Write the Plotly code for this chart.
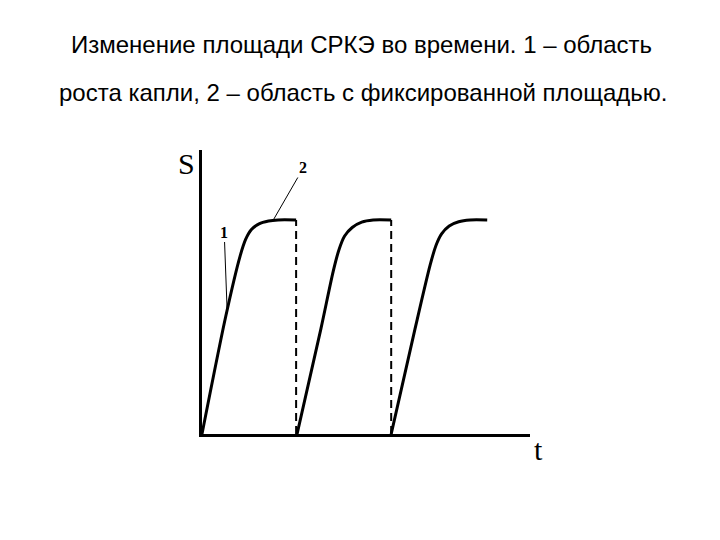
import plotly.graph_objects as go

# Cycle data (time in units of drop period, S normalised to plateau)
t1 = [0.0, 0.25, 0.40, 0.46, 0.52, 0.60, 0.70, 0.80, 0.99]
s1 = [0.0, 0.55, 0.83, 0.91, 0.955, 0.982, 0.995, 1.0, 1.0]
t2 = [1.00, 1.25, 1.38, 1.44, 1.50, 1.58, 1.68, 1.80, 1.99]
s2 = [0.0, 0.49, 0.76, 0.86, 0.925, 0.965, 0.99, 1.0, 1.0]
t3 = [1.99, 2.24, 2.40, 2.46, 2.52, 2.60, 2.70, 2.82, 3.00]
s3 = [0.0, 0.49, 0.79, 0.88, 0.935, 0.972, 0.992, 1.0, 1.0]
drop_t = [0.99, 1.99]
plateau_s = 1.0

title_lines = ["Изменение площади СРКЭ во времени. 1 – область",
               "роста капли, 2 – область с фиксированной площадью."]

OFF = 8  # page body margin
W, H = 720, 540
L, R, T, B = 202 - OFF, 190 + OFF, 150 - OFF, 106 + OFF


def px(x):
    return (x - OFF - L) / (W - L - R)


def py(y):
    return (H - B - (y - OFF)) / (H - B - T)


fig = go.Figure()
for tt, ss in [(t1, s1), (t2, s2), (t3, s3)]:
    fig.add_trace(go.Scatter(x=tt, y=ss, mode="lines",
                             line=dict(color="black", width=3, shape="spline", smoothing=0.8),
                             showlegend=False, hoverinfo="skip"))
for d in drop_t:
    fig.add_trace(go.Scatter(x=[d, d], y=[0, plateau_s], mode="lines",
                             line=dict(color="black", width=2, dash="8px,5px"),
                             showlegend=False, hoverinfo="skip"))

serif = "Liberation Serif, Times New Roman, serif"
sans = "Liberation Sans, Arial, sans-serif"
fig.add_annotation(x=0.75, y=1.0, xref="x", yref="y", text="<b>2</b>",
                   showarrow=True, arrowhead=0, arrowwidth=1, arrowcolor="black",
                   ax=30, ay=-52, font=dict(family=serif, size=16, color="black"))
fig.add_annotation(x=0.265, y=0.57, xref="x", yref="y", text="<b>1</b>",
                   showarrow=True, arrowhead=0, arrowwidth=1, arrowcolor="black",
                   ax=-3, ay=-80, font=dict(family=serif, size=16, color="black"))
fig.add_annotation(x=px(186), y=py(163), xref="paper", yref="paper", text="S", showarrow=False,
                   xanchor="center", yanchor="middle",
                   font=dict(family=serif, size=30, color="black"))
fig.add_annotation(x=px(538), y=py(449), xref="paper", yref="paper", text="t", showarrow=False,
                   xanchor="center", yanchor="middle",
                   font=dict(family=serif, size=30, color="black"))
fig.add_annotation(x=px(361), y=py(45), xref="paper", yref="paper", text=title_lines[0],
                   showarrow=False, xanchor="center", yanchor="middle",
                   font=dict(family=sans, size=24, color="black"))
fig.add_annotation(x=px(363), y=py(92), xref="paper", yref="paper", text=title_lines[1],
                   showarrow=False, xanchor="center", yanchor="middle",
                   font=dict(family=sans, size=24, color="black"))

fig.update_layout(width=W, height=H, margin=dict(l=L, r=R, t=T, b=B),
                  plot_bgcolor="white", paper_bgcolor="white")
fig.update_xaxes(range=[0, 3.45], showline=True, linecolor="black", linewidth=3,
                 showgrid=False, zeroline=False, showticklabels=False, ticks="")
fig.update_yaxes(range=[0, 1.327], showline=True, linecolor="black", linewidth=3,
                 showgrid=False, zeroline=False, showticklabels=False, ticks="")
fig.write_html("out.html")
